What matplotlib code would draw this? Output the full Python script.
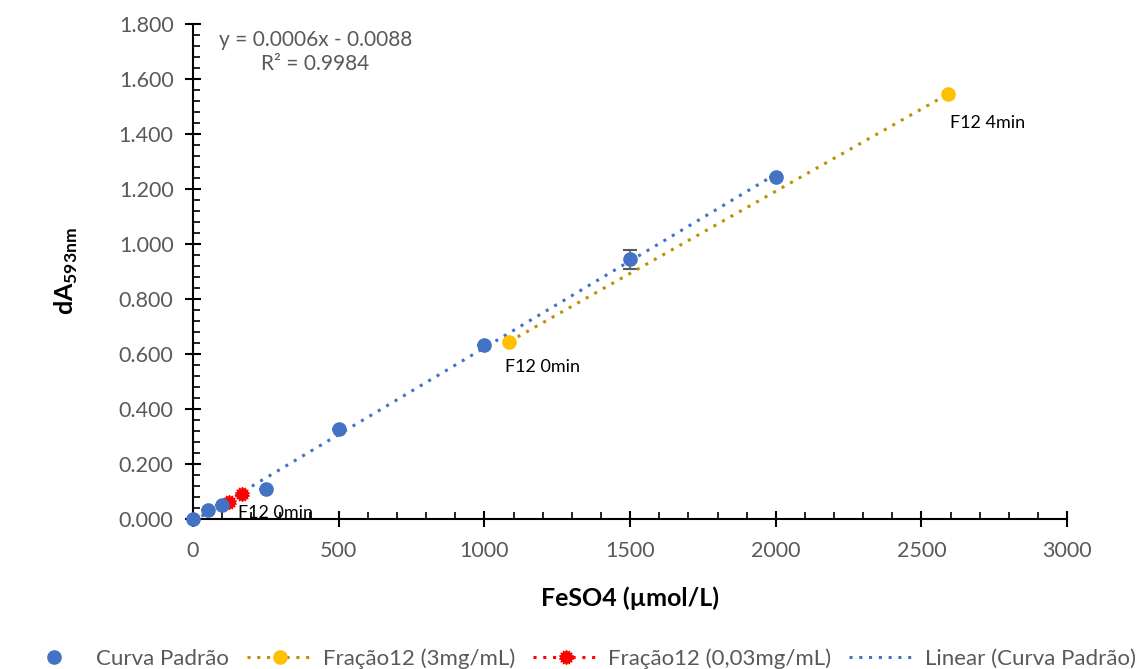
import numpy as np
import matplotlib
matplotlib.use("Agg")
import matplotlib.pyplot as plt
from matplotlib.lines import Line2D
from matplotlib.ticker import MultipleLocator, AutoMinorLocator, FormatStrFormatter

plt.rcParams['font.family'] = ['Lato', 'DejaVu Sans']
plt.rcParams['mathtext.fontset'] = 'custom'
plt.rcParams['mathtext.rm'] = 'Lato'
plt.rcParams['mathtext.bf'] = 'Lato:bold'

# =====================================================
# DATA
# =====================================================

# standard curve (Curva Padrão)
std_x = [0, 50, 100, 250, 500, 1000, 1500, 2000]
std_y = [0.000, 0.033, 0.051, 0.109, 0.327, 0.634, 0.945, 1.244]
std_err = [0, 0, 0, 0, 0, 0, 0.035, 0]

# Fração12 (3mg/mL)
f3_x = [1085, 2590]
f3_y = [0.645, 1.545]
f3_labels = ["F12 0min", "F12 4min"]

# Fração12 (0,03mg/mL)
f003_x = [124, 168]
f003_y = [0.062, 0.091]
f003_labels = ["F12 0min", ""]

BLUE = "#4472C4"
GOLD = "#FFC000"
GOLD_LINE = "#BF9000"
RED = "#FF0000"
GREY = "#595959"
DOTS = (0, (1, 2.2))

# =====================================================
# PLOT
# =====================================================

fig = plt.figure(figsize=(11.45, 6.69), dpi=100)
ax = fig.add_axes([0.1686, 0.2242, 0.7634, 0.7398])

# trendline for the standard curve
coef = np.polyfit(std_x, std_y, 1)
tx = np.array([min(std_x), max(std_x)])
ax.plot(tx, np.polyval(coef, tx), color=BLUE, linestyle=DOTS,
        linewidth=2.2, zorder=2)

ax.errorbar(std_x, std_y, yerr=std_err, fmt="none", ecolor=GREY,
            elinewidth=1.2, capsize=5, capthick=1.5, zorder=3)
ax.plot(std_x, std_y, "o", color=BLUE, markersize=9.5, zorder=4, clip_on=False)

ax.plot(f3_x, f3_y, color=GOLD_LINE, linestyle=DOTS, linewidth=2.2,
        marker="o", markersize=9.5, markerfacecolor=GOLD, markeredgecolor=GOLD,
        zorder=3)

# red "gear" markers: star + filled circle
ax.plot(f003_x, f003_y, color=RED, linestyle=DOTS, linewidth=2.2,
        marker=(14, 1, 0), markersize=10.5, markerfacecolor=RED,
        markeredgecolor=RED, zorder=3)
ax.plot(f003_x, f003_y, "o", color=RED, markersize=8, zorder=3)

# point labels (offsets in points)
f3_offsets = [(-3, -18), (2, -21)]
f003_offsets = [(6, -8), (0, 0)]
for x, y, t, off in zip(f3_x, f3_y, f3_labels, f3_offsets):
    ax.annotate(t, (x, y), xytext=off, textcoords="offset points",
                fontsize=13, color="black", ha="left", va="center")
for x, y, t, off in zip(f003_x, f003_y, f003_labels, f003_offsets):
    ax.annotate(t, (x, y), xytext=off, textcoords="offset points",
                fontsize=13, color="black", ha="left", va="center",
                zorder=5)

# equation
ax.text(0.14, 0.988, "y = 0.0006x - 0.0088\nR² = 0.9984", transform=ax.transAxes,
        ha="center", va="top", fontsize=15, color=GREY, linespacing=1.25)

# axes formatting
ax.set_xlim(0, 3000)
ax.set_ylim(0, 1.8)
ax.xaxis.set_major_locator(MultipleLocator(500))
ax.yaxis.set_major_locator(MultipleLocator(0.2))
ax.xaxis.set_minor_locator(AutoMinorLocator(5))
ax.yaxis.set_minor_locator(AutoMinorLocator(5))
ax.yaxis.set_major_formatter(FormatStrFormatter("%.3f"))

for s in ["top", "right"]:
    ax.spines[s].set_visible(False)
for s in ["left", "bottom"]:
    ax.spines[s].set_linewidth(1.5)
    ax.spines[s].set_color("black")

ax.tick_params(which="major", direction="inout", length=12, width=1.5,
               labelsize=15.5, labelcolor=GREY)
ax.tick_params(axis="y", which="major", pad=8)
ax.tick_params(axis="x", which="major", pad=10)
ax.tick_params(which="minor", direction="in", length=5, width=1.2)

ax.set_xlabel("FeSO4 (µmol/L)", fontsize=18, fontweight="bold", labelpad=18)
ax.set_ylabel(r"dA$_{\mathbf{593nm}}$", fontsize=18, fontweight="bold", labelpad=28)

red_line = Line2D([], [], color=RED, linestyle=DOTS, linewidth=2.2,
                  marker=(14, 1, 0), markersize=10.5, markerfacecolor=RED,
                  markeredgecolor=RED)
red_dot = Line2D([], [], linestyle="none", marker="o", color=RED, markersize=8)
handles = [
    Line2D([], [], linestyle="none", marker="o", color=BLUE, markersize=9.5),
    Line2D([], [], color=GOLD_LINE, linestyle=DOTS, linewidth=2.2, marker="o",
           markersize=9.5, markerfacecolor=GOLD, markeredgecolor=GOLD),
    (red_line, red_dot),
    Line2D([], [], color=BLUE, linestyle=DOTS, linewidth=2.2),
]
labels = ["Curva Padrão", "Fração12 (3mg/mL)", "Fração12 (0,03mg/mL)",
          "Linear (Curva Padrão)"]
fig.legend(handles, labels, loc="lower center", bbox_to_anchor=(0.505, -0.03),
           ncol=4, frameon=False, fontsize=16, labelcolor=GREY,
           handlelength=3.0, columnspacing=0.8, handletextpad=0.4)

fig.savefig("out.png", dpi=100)
